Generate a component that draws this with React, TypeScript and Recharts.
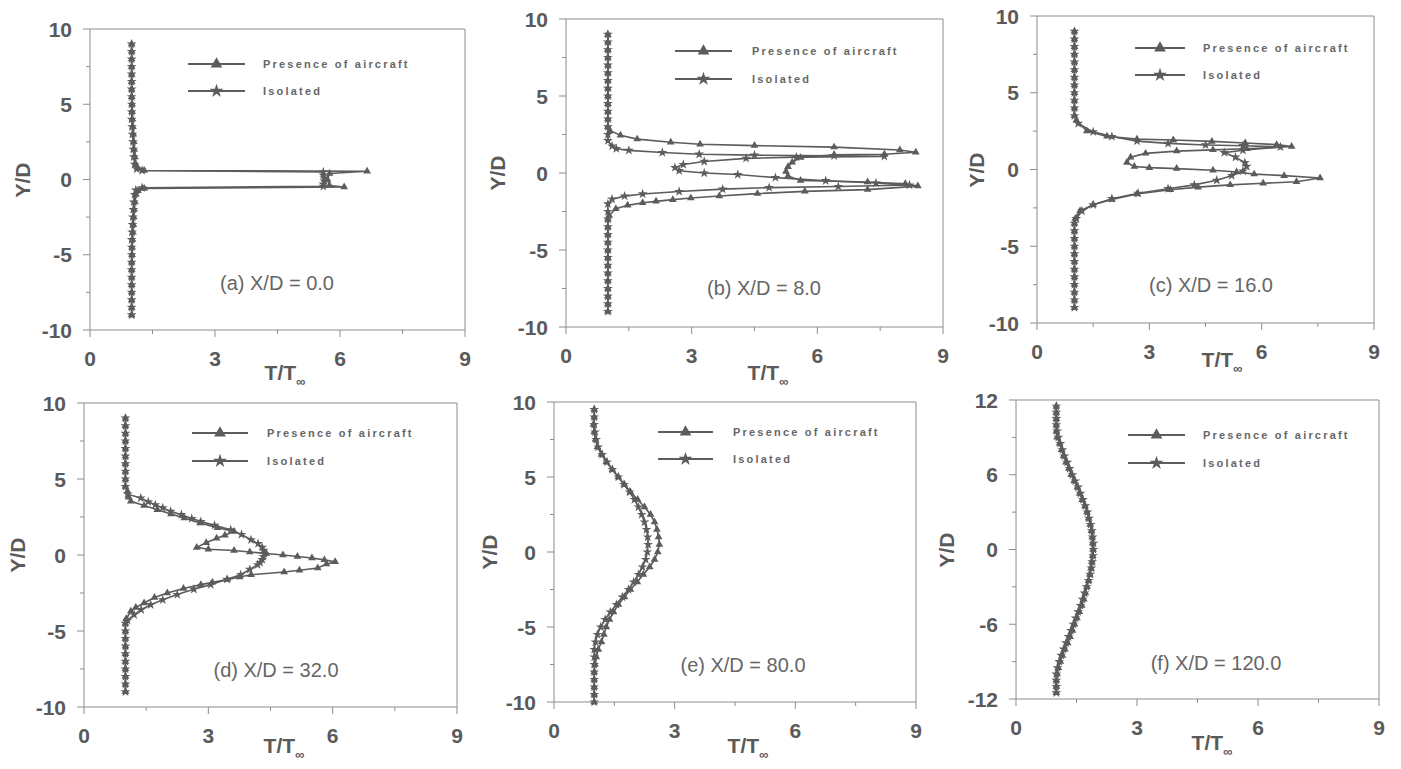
import { ScatterChart, Scatter, XAxis, YAxis, Symbols } from 'recharts';

const FONT = '"Liberation Sans", Arial, sans-serif';
const INK = '#5c5c5c';
const AXIS = '#8c8c8c';
const TEXT = '#5a5a5a';

// axis ticks
const xTicks = [0, 1.5, 3, 4.5, 6, 7.5, 9];
const xMajor = [0, 3, 6, 9];
const yTicks10 = [-10, -7.5, -5, -2.5, 0, 2.5, 5, 7.5, 10];
const yMajor10 = [-10, -5, 0, 5, 10];
const yTicks12 = [-12, -9, -6, -3, 0, 3, 6, 9, 12];
const yMajor12 = [-12, -6, 0, 6, 12];

// (a) X/D = 0.0
const yA_presence = [9, 8.5, 8, 7.5, 7, 6.5, 6, 5.5, 5, 4.5, 4, 3.5, 3, 2.5, 2, 1.5, 1, 0.75, 0.6, 0.55, 0.4, 0, -0.4, -0.5, -0.6, -0.75, -1, -1.5, -2, -2.5, -3, -3.5, -4, -4.5, -5, -5.5, -6, -6.5, -7, -7.5, -8, -8.5, -9];
const tA_presence = [1, 1, 1, 1, 1, 1, 1, 1, 1.01, 1.01, 1.02, 1.03, 1.04, 1.05, 1.06, 1.08, 1.1, 1.15, 1.3, 6.65, 5.75, 5.7, 5.75, 6.1, 1.3, 1.15, 1.1, 1.08, 1.06, 1.05, 1.04, 1.03, 1.02, 1.01, 1.01, 1, 1, 1, 1, 1, 1, 1, 1];
const yA_isolated = [9, 8.5, 8, 7.5, 7, 6.5, 6, 5.5, 5, 4.5, 4, 3.5, 3, 2.5, 2, 1.5, 1, 0.7, 0.6, 0.5, 0.3, 0.1, -0.1, -0.3, -0.45, -0.55, -0.7, -1, -1.5, -2, -2.5, -3, -3.5, -4, -4.5, -5, -5.5, -6, -6.5, -7, -7.5, -8, -8.5, -9];
const tA_isolated = [1, 1, 1, 1, 1, 1, 1, 1, 1, 1, 1, 1.01, 1.02, 1.03, 1.04, 1.05, 1.07, 1.12, 1.25, 5.6, 5.6, 5.62, 5.62, 5.6, 5.6, 1.25, 1.1, 1.07, 1.05, 1.04, 1.03, 1.02, 1.01, 1, 1, 1, 1, 1, 1, 1, 1, 1, 1, 1];

// (b) X/D = 8.0
const yB_presence = [9, 8.5, 8, 7.5, 7, 6.5, 6, 5.5, 5, 4.5, 4, 3.5, 3, 2.75, 2.45, 2.2, 2.0, 1.87, 1.78, 1.68, 1.49, 1.35, 1.22, 1.18, 1.0, 0.7, 0.4, 0.1, -0.2, -0.48, -0.58, -0.7, -0.85, -1.08, -1.19, -1.34, -1.49, -1.62, -1.73, -1.84, -1.93, -2.1, -2.32, -2.75, -3, -3.5, -4, -4.5, -5, -5.5, -6, -6.5, -7, -7.5, -8, -8.5, -9];
const tB_presence = [1, 1, 1, 1, 1, 1, 1, 1, 1, 1, 1, 1, 1, 1.05, 1.3, 1.7, 2.5, 3.2, 4.5, 6.4, 7.97, 8.35, 7.6, 6.4, 5.6, 5.4, 5.3, 5.25, 5.3, 5.6, 7.2, 8.1, 8.4, 7.2, 5.7, 4.57, 3.66, 2.98, 2.55, 2.15, 1.83, 1.47, 1.19, 1.03, 1, 1, 1, 1, 1, 1, 1, 1, 1, 1, 1, 1, 1];
const yB_isolated = [9, 8.5, 8, 7.5, 7, 6.5, 6, 5.5, 5, 4.5, 4, 3.5, 3, 2.5, 2.1, 1.75, 1.58, 1.47, 1.33, 1.22, 1.16, 1.12, 1.08, 1.03, 0.95, 0.75, 0.55, 0.35, 0.15, 0.0, -0.1, -0.3, -0.5, -0.65, -0.78, -0.88, -0.95, -1.05, -1.2, -1.36, -1.5, -1.7, -2.0, -2.5, -3, -3.5, -4, -4.5, -5, -5.5, -6, -6.5, -7, -7.5, -8, -8.5, -9];
const tB_isolated = [1, 1, 1, 1, 1, 1, 1, 1, 1, 1, 1, 1, 1, 1, 1.0, 1.1, 1.2, 1.5, 2.3, 3.18, 4.5, 6.4, 7.6, 5.5, 4.3, 3.3, 2.8, 2.6, 2.7, 3.3, 4.1, 5.0, 6.2, 7.4, 8.2, 6.5, 4.85, 3.74, 2.7, 1.83, 1.4, 1.1, 1.0, 1, 1, 1, 1, 1, 1, 1, 1, 1, 1, 1, 1, 1, 1];

// (c) X/D = 16.0
const yC_presence = [9, 8.5, 8, 7.5, 7, 6.5, 6, 5.5, 5, 4.5, 4, 3.5, 3.2, 2.5, 2.16, 1.98, 1.92, 1.83, 1.73, 1.62, 1.5, 1.35, 1.28, 1.2, 1.05, 0.8, 0.45, 0.2, 0.12, 0.06, -0.05, -0.16, -0.3, -0.4, -0.55, -0.8, -0.9, -1.0, -1.15, -1.32, -1.6, -1.95, -2.3, -2.7, -3.2, -3.5, -4, -4.5, -5, -5.5, -6, -6.5, -7, -7.5, -8, -8.5, -9];
const tC_presence = [1, 1, 1, 1, 1, 1, 1, 1, 1, 1, 1, 1, 1.05, 1.33, 1.87, 2.67, 3.64, 4.67, 5.56, 6.4, 6.8, 5.6, 4.7, 3.73, 2.9, 2.5, 2.4, 2.6, 3.0, 3.73, 4.7, 5.33, 5.8, 6.6, 7.56, 6.93, 6.04, 5.16, 4.3, 3.56, 2.67, 2.0, 1.5, 1.15, 1.02, 1, 1, 1, 1, 1, 1, 1, 1, 1, 1, 1, 1];
const yC_isolated = [9, 8.5, 8, 7.5, 7, 6.5, 6, 5.5, 5, 4.5, 4, 3.5, 3.0, 2.45, 2.15, 1.85, 1.7, 1.6, 1.55, 1.47, 1.25, 1.1, 0.8, 0.45, 0.2, -0.1, -0.4, -0.7, -1.0, -1.25, -1.55, -1.9, -2.3, -2.7, -3.2, -3.5, -4, -4.5, -5, -5.5, -6, -6.5, -7, -7.5, -8, -8.5, -9];
const tC_isolated = [1, 1, 1, 1, 1, 1, 1, 1, 1, 1, 1, 1, 1.1, 1.5, 2.0, 2.67, 3.5, 4.5, 5.5, 6.5, 5.5, 5.0, 5.3, 5.55, 5.6, 5.5, 5.2, 4.8, 4.2, 3.5, 2.7, 2.0, 1.5, 1.2, 1.05, 1, 1, 1, 1, 1, 1, 1, 1, 1, 1, 1, 1];

// (d) X/D = 32.0
const yD_presence = [9, 8.5, 8, 7.5, 7, 6.5, 6, 5.5, 5, 4.5, 4.2, 3.8, 3.53, 3.25, 2.98, 2.7, 2.43, 2.1, 1.8, 1.55, 1.3, 1.1, 0.8, 0.5, 0.38, 0.3, 0.2, 0.1, 0.0, -0.1, -0.2, -0.32, -0.44, -0.6, -0.85, -1.0, -1.12, -1.3, -1.45, -1.62, -1.8, -1.95, -2.2, -2.5, -2.8, -3.16, -3.45, -3.7, -4.2, -4.5, -5, -5.5, -6, -6.5, -7, -7.5, -8, -8.5, -9];
const tD_presence = [1, 1, 1, 1, 1, 1, 1, 1, 1, 1, 1.05, 1.08, 1.13, 1.45, 1.77, 2.1, 2.42, 2.8, 3.22, 3.62, 3.4, 3.2, 2.95, 2.72, 3.0, 3.62, 4.0, 4.4, 4.8, 5.15, 5.5, 5.8, 6.06, 5.85, 5.64, 5.2, 4.83, 4.03, 3.75, 3.46, 3.1, 2.82, 2.4, 2.01, 1.7, 1.45, 1.25, 1.13, 1.02, 1, 1, 1, 1, 1, 1, 1, 1, 1, 1];
const yD_isolated = [9, 8.5, 8, 7.5, 7, 6.5, 6, 5.5, 5, 4.5, 4.0, 3.75, 3.5, 3.3, 3.1, 2.87, 2.65, 2.4, 2.2, 1.95, 1.66, 1.35, 1.0, 0.75, 0.5, 0.3, 0.1, -0.1, -0.3, -0.5, -0.64, -0.95, -1.3, -1.6, -1.95, -2.25, -2.6, -2.95, -3.27, -3.6, -3.93, -4.3, -4.5, -5, -5.5, -6, -6.5, -7, -7.5, -8, -8.5, -9];
const tD_isolated = [1, 1, 1, 1, 1, 1, 1, 1, 1, 1, 1.05, 1.37, 1.55, 1.72, 1.9, 2.09, 2.35, 2.6, 2.82, 3.15, 3.54, 3.8, 4.03, 4.2, 4.3, 4.33, 4.35, 4.33, 4.3, 4.25, 4.19, 4.0, 3.78, 3.45, 3.06, 2.65, 2.25, 1.9, 1.61, 1.38, 1.21, 1.05, 1, 1, 1, 1, 1, 1, 1, 1, 1, 1];

// (e) X/D = 80.0
const yE = [9.5, 9, 8.5, 8, 7.5, 7, 6.5, 6, 5.5, 5, 4.5, 4, 3.5, 3, 2.5, 2, 1.5, 1, 0.5, 0, -0.5, -1, -1.5, -2, -2.5, -3, -3.5, -4, -4.5, -5, -5.5, -6, -6.5, -7, -7.5, -8, -8.5, -9, -9.5, -10];
const tE_presence = [1.0, 1.0, 0.98, 1.0, 1.03, 1.08, 1.18, 1.3, 1.45, 1.6, 1.75, 1.9, 2.08, 2.25, 2.4, 2.5, 2.56, 2.6, 2.62, 2.58, 2.5, 2.38, 2.22, 2.07, 1.9, 1.75, 1.6, 1.48, 1.38, 1.3, 1.24, 1.18, 1.1, 1.05, 1.02, 1.0, 1.0, 1.0, 1.0, 1.0];
const tE_isolated = [1.0, 1.0, 1.0, 1.02, 1.05, 1.1, 1.2, 1.32, 1.45, 1.6, 1.74, 1.88, 2.0, 2.1, 2.18, 2.25, 2.3, 2.33, 2.34, 2.32, 2.28, 2.2, 2.1, 1.98, 1.85, 1.7, 1.55, 1.4, 1.27, 1.16, 1.08, 1.03, 1.0, 1.0, 1.0, 1.0, 1.0, 1.0, 1.0, 1.0];

// (f) X/D = 120.0
const yF = [11.5, 11, 10.5, 10, 9.5, 9, 8.5, 8, 7.5, 7, 6.5, 6, 5.5, 5, 4.5, 4, 3.5, 3, 2.5, 2, 1.5, 1, 0.5, 0, -0.5, -1, -1.5, -2, -2.5, -3, -3.5, -4, -4.5, -5, -5.5, -6, -6.5, -7, -7.5, -8, -8.5, -9, -9.5, -10, -10.5, -11, -11.5];
const tF_presence = [1.0, 1.0, 1.0, 1.0, 1.0, 1.02, 1.08, 1.13, 1.18, 1.24, 1.31, 1.37, 1.44, 1.52, 1.58, 1.64, 1.71, 1.76, 1.8, 1.84, 1.87, 1.89, 1.9, 1.91, 1.9, 1.88, 1.86, 1.83, 1.8, 1.76, 1.72, 1.68, 1.63, 1.57, 1.51, 1.45, 1.4, 1.34, 1.28, 1.21, 1.15, 1.1, 1.05, 1.02, 1.0, 1.0, 1.0];
const tF_isolated = [1.0, 1.0, 1.0, 1.0, 1.02, 1.05, 1.1, 1.15, 1.2, 1.27, 1.33, 1.4, 1.47, 1.54, 1.6, 1.66, 1.72, 1.77, 1.81, 1.85, 1.88, 1.9, 1.92, 1.92, 1.91, 1.89, 1.87, 1.84, 1.8, 1.75, 1.7, 1.65, 1.6, 1.54, 1.48, 1.42, 1.36, 1.3, 1.24, 1.18, 1.12, 1.07, 1.03, 1.0, 1.0, 1.0, 1.0];

const zip = (ys: number[], ts: number[]) => ys.map((y, i) => ({ y, t: ts[i] }));

type Side = 'bottom' | 'top' | 'left' | 'right';

const tickText = { fontFamily: FONT, fontSize: 21, fontWeight: 700, fill: TEXT };

const makeTick = (side: Side, majors: number[]) => (props: any) => {
  const { x, y, payload } = props;
  const v = payload.value;
  const major = majors.includes(v);
  const len = major ? 7 : 4;
  if (side === 'bottom') {
    return (
      <g>
        <line x1={x} y1={y} x2={x} y2={y + len} stroke={AXIS} />
        {major && <text x={x} y={y + 28} textAnchor="middle" dominantBaseline="central" style={tickText}>{v}</text>}
      </g>
    );
  }
  if (side === 'left') {
    return (
      <g>
        <line x1={x} y1={y} x2={x - len} y2={y} stroke={AXIS} />
        {major && <text x={x - 18} y={y} textAnchor="end" dominantBaseline="central" style={tickText}>{v}</text>}
      </g>
    );
  }
  if (side === 'top') return <line x1={x} y1={y} x2={x} y2={y - len} stroke={AXIS} />;
  return <line x1={x} y1={y} x2={x + len} y2={y} stroke={AXIS} />;
};

// small plot markers
const markerShape = (type: 'triangle' | 'star') => (props: any) => (
  <Symbols cx={props.cx} cy={props.cy} type={type} size={type === 'star' ? 30 : 26} fill={INK} />
);

interface PanelCfg {
  box: { x0: number; y0: number; x1: number; y1: number };
  yDomain: [number, number];
  yTicks: number[];
  yMajor: number[];
  presence: { y: number; t: number }[];
  isolated: { y: number; t: number }[];
  caption: string;
  cap: [number, number];
  leg: { lx: number; len: number; tx: number; r1: number; r2: number };
  yLab: number;
  xLab: [number, number];
}

const panels: PanelCfg[] = [
  {
    box: { x0: 90, y0: 29, x1: 465, y1: 330 }, yDomain: [-10, 10], yTicks: yTicks10, yMajor: yMajor10,
    presence: zip(yA_presence, tA_presence), isolated: zip(yA_isolated, tA_isolated),
    caption: '(a) X/D = 0.0', cap: [187, 254], leg: { lx: 98, len: 57, tx: 173, r1: 35, r2: 62 }, yLab: -67, xLab: [195, 45]
  },
  {
    box: { x0: 566, y0: 19, x1: 943, y1: 327 }, yDomain: [-10, 10], yTicks: yTicks10, yMajor: yMajor10,
    presence: zip(yB_presence, tB_presence), isolated: zip(yB_isolated, tB_isolated),
    caption: '(b) X/D = 8.0', cap: [198, 269], leg: { lx: 109, len: 57, tx: 186, r1: 32, r2: 60 }, yLab: -68, xLab: [202, 48]
  },
  {
    box: { x0: 1037, y0: 16, x1: 1374, y1: 323 }, yDomain: [-10, 10], yTicks: yTicks10, yMajor: yMajor10,
    presence: zip(yC_presence, tC_presence), isolated: zip(yC_isolated, tC_isolated),
    caption: '(c) X/D = 16.0', cap: [174, 269], leg: { lx: 98, len: 50, tx: 166, r1: 32, r2: 59 }, yLab: -60, xLab: [185, 39]
  },
  {
    box: { x0: 84, y0: 403, x1: 457, y1: 707 }, yDomain: [-10, 10], yTicks: yTicks10, yMajor: yMajor10,
    presence: zip(yD_presence, tD_presence), isolated: zip(yD_isolated, tD_isolated),
    caption: '(d) X/D = 32.0', cap: [192, 267], leg: { lx: 108, len: 56, tx: 183, r1: 30, r2: 58 }, yLab: -66, xLab: [200, 41]
  },
  {
    box: { x0: 554, y0: 402, x1: 916, y1: 702 }, yDomain: [-10, 10], yTicks: yTicks10, yMajor: yMajor10,
    presence: zip(yE, tE_presence), isolated: zip(yE, tE_isolated),
    caption: '(e) X/D = 80.0', cap: [189, 263], leg: { lx: 104, len: 55, tx: 179, r1: 30, r2: 57 }, yLab: -64, xLab: [194, 46]
  },
  {
    box: { x0: 1016, y0: 400, x1: 1379, y1: 699 }, yDomain: [-12, 12], yTicks: yTicks12, yMajor: yMajor12,
    presence: zip(yF, tF_presence), isolated: zip(yF, tF_isolated),
    caption: '(f) X/D = 120.0', cap: [200, 263], leg: { lx: 112, len: 57, tx: 187, r1: 35, r2: 63 }, yLab: -69, xLab: [196, 46]
  }
];

function LegendRow({ left, top, len, tx, type, label }: { left: number; top: number; len: number; tx: number; type: 'triangle' | 'star'; label: string }) {
  return (
    <>
      <svg style={{ position: 'absolute', left, top: top - 7 }} width={len} height={14}>
        <line x1={0} y1={7} x2={len} y2={7} stroke={INK} strokeWidth={1.8} />
        <Symbols cx={len / 2} cy={7} type={type} size={60} fill={INK} />
      </svg>
      <div style={{ position: 'absolute', left: left + tx, top: top - 8, fontFamily: FONT, fontSize: 11, fontWeight: 700, letterSpacing: 2.2, color: '#666', whiteSpace: 'nowrap', lineHeight: '16px' }}>{label}</div>
    </>
  );
}

function Panel({ p }: { p: PanelCfg }) {
  const { x0, y0, x1, y1 } = p.box;
  const w = x1 - x0 + 105;
  const h = y1 - y0 + 90;
  return (
    <>
      <div style={{ position: 'absolute', left: x0 - 85, top: y0 - 30 }}>
        <ScatterChart width={w} height={h} margin={{ top: 20, right: 10, bottom: 30, left: 45 }}>
          <XAxis xAxisId="b" type="number" dataKey="t" domain={[0, 9]} ticks={xTicks} interval={0} orientation="bottom" height={30}
            axisLine={{ stroke: AXIS }} tickLine={false} tickSize={0} tickMargin={0} tick={makeTick('bottom', xMajor)} />
          <XAxis xAxisId="t" type="number" dataKey="t" domain={[0, 9]} ticks={xTicks} interval={0} orientation="top" height={10}
            axisLine={{ stroke: AXIS }} tickLine={false} tickSize={0} tickMargin={0} tick={makeTick('top', xMajor)} />
          <YAxis yAxisId="l" type="number" dataKey="y" domain={p.yDomain} ticks={p.yTicks} interval={0} orientation="left" width={40}
            axisLine={{ stroke: AXIS }} tickLine={false} tickSize={0} tickMargin={0} tick={makeTick('left', p.yMajor)} />
          <YAxis yAxisId="r" type="number" dataKey="y" domain={p.yDomain} ticks={p.yTicks} interval={0} orientation="right" width={10}
            axisLine={{ stroke: AXIS }} tickLine={false} tickSize={0} tickMargin={0} tick={makeTick('right', p.yMajor)} />
          <Scatter xAxisId="b" yAxisId="l" data={p.presence} shape={markerShape('triangle')} fill={INK} line={{ stroke: INK, strokeWidth: 1.6 }} lineType="joint" isAnimationActive={false} />
          <Scatter xAxisId="b" yAxisId="l" data={p.isolated} shape={markerShape('star')} fill={INK} line={{ stroke: INK, strokeWidth: 1.6 }} lineType="joint" isAnimationActive={false} />
        </ScatterChart>
      </div>
      <LegendRow left={x0 + p.leg.lx} top={y0 + p.leg.r1} len={p.leg.len} tx={p.leg.tx - p.leg.lx} type="triangle" label="Presence of aircraft" />
      <LegendRow left={x0 + p.leg.lx} top={y0 + p.leg.r2} len={p.leg.len} tx={p.leg.tx - p.leg.lx} type="star" label="Isolated" />
      <div style={{ position: 'absolute', left: x0 + p.cap[0], top: y0 + p.cap[1], transform: 'translate(-50%, -50%)', fontFamily: FONT, fontSize: 20, color: '#666', whiteSpace: 'nowrap' }}>
        {p.caption}
      </div>
      <div style={{ position: 'absolute', left: x0 + p.yLab, top: (y0 + y1) / 2, transform: 'translate(-50%, -50%) rotate(-90deg)', fontFamily: FONT, fontSize: 21, fontWeight: 700, color: TEXT, whiteSpace: 'nowrap' }}>
        Y/D
      </div>
      <div style={{ position: 'absolute', left: x0 + p.xLab[0], top: y1 + p.xLab[1], transform: 'translate(-50%, -50%)', fontFamily: FONT, fontSize: 21, fontWeight: 700, color: TEXT, whiteSpace: 'nowrap' }}>
        T/T<sub style={{ fontSize: 13 }}>∞</sub>
      </div>
    </>
  );
}

export default function App() {
  return (
    <div style={{ position: 'absolute', left: 0, top: 0, width: 1401, height: 769, background: '#ffffff', overflow: 'hidden' }}>
      {panels.map((p, i) => <Panel key={i} p={p} />)}
    </div>
  );
}
